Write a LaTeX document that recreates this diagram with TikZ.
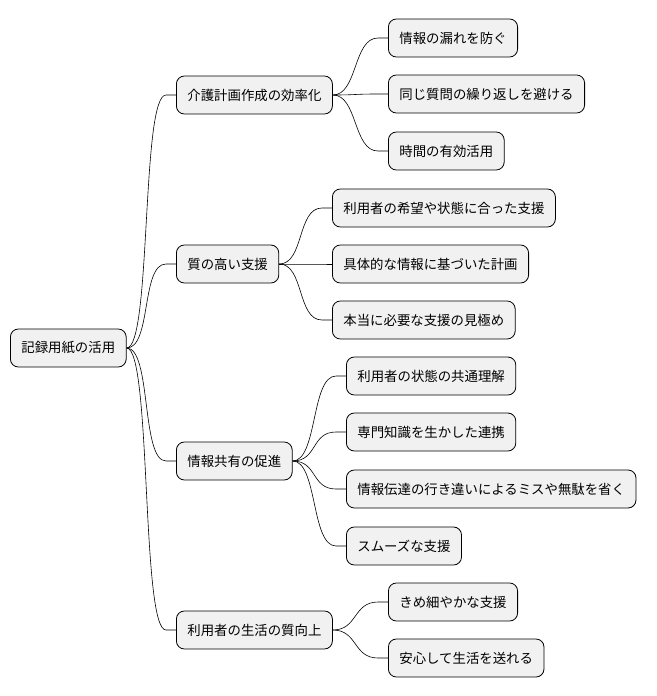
\documentclass[tikz,border=0pt]{standalone}
\usepackage{fontspec}
\setmainfont{Noto Sans CJK JP}
\usetikzlibrary{positioning}
\definecolor{boxgray}{HTML}{F1F1F1}
\tikzset{
  topic/.style={draw=black, line width=0.8pt, fill=boxgray, rounded corners=8pt, anchor=west,
    minimum height=38pt, inner xsep=11pt, font=\fontsize{13.4}{15}\selectfont},
  link/.style={draw=black, line width=0.6pt}
}
\begin{document}
\begin{tikzpicture}[x=1pt,y=-1pt]
\useasboundingbox (0,0) rectangle (656,696);
% root
\node[topic] (root) at (10,348) {記録用紙の活用};
% first level
\node[topic] (plan) at (176,95) {介護計画作成の効率化};
\node[topic] (qual) at (176,264) {質の高い支援};
\node[topic] (share) at (176,461) {情報共有の促進};
\node[topic] (life) at (176,630) {利用者の生活の質向上};
% second level
\node[topic] (p1) at (388,38) {情報の漏れを防ぐ};
\node[topic] (p2) at (388,94) {同じ質問の繰り返しを避ける};
\node[topic] (p3) at (388,151) {時間の有効活用};
\node[topic] (q1) at (332,208) {利用者の希望や状態に合った支援};
\node[topic] (q2) at (332,264) {具体的な情報に基づいた計画};
\node[topic] (q3) at (332,320) {本当に必要な支援の見極め};
\node[topic] (s1) at (346,376) {利用者の状態の共通理解};
\node[topic] (s2) at (346,432) {専門知識を生かした連携};
\node[topic] (s3) at (346,489) {情報伝達の行き違いによるミスや無駄を省く};
\node[topic] (s4) at (346,546) {スムーズな支援};
\node[topic] (l1) at (388,602) {きめ細やかな支援};
\node[topic] (l2) at (388,658) {安心して生活を送れる};
% connectors
\foreach \a/\b in {root/plan, root/qual, root/share, root/life,
  plan/p1, plan/p2, plan/p3, qual/q1, qual/q2, qual/q3,
  share/s1, share/s2, share/s3, share/s4, life/l1, life/l2}
  \draw[link] (\a.east) .. controls +(25,0) and +(-25,0) .. ([xshift=-10pt]\b.west) -- (\b.west);
\end{tikzpicture}
\end{document}
